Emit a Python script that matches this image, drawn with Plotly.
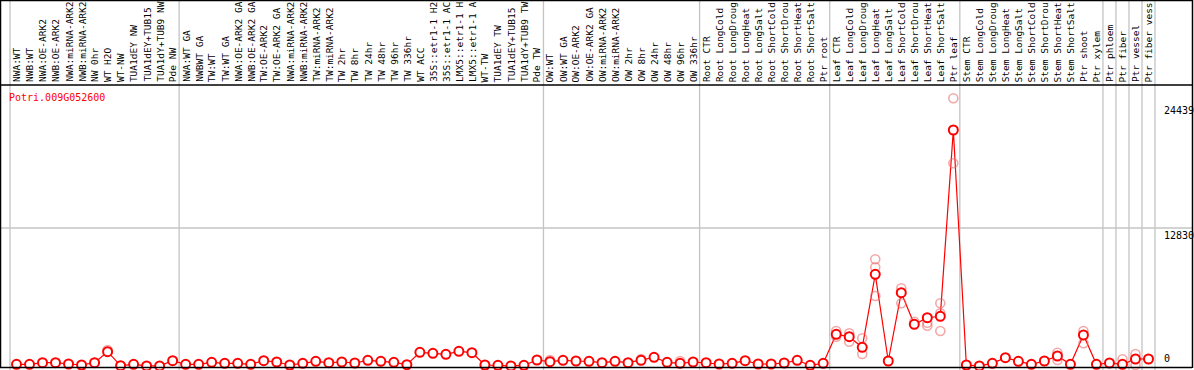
import plotly.graph_objects as go

title_text = "Potri.009G052600"

categories = [
    "NWA:WT", "NWB:WT", "NWA:OE-ARK2", "NWB:OE-ARK2", "NWA:miRNA-ARK2", "NWB:miRNA-ARK2",
    "NW 0hr", "WT H2O", "WT-NW", "TUA1dEY NW", "TUA1dEY+TUB15 NW", "TUA1dY+TUB9 NW", "Pde NW",
    "NWA:WT GA", "NWBWT GA", "TW:WT", "TW:WT GA", "NWA:OE-ARK2 GA", "NWB:OE-ARK2 GA",
    "TW:OE-ARK2", "TW:OE-ARK2 GA", "NWA:miRNA-ARK2", "NWB:miRNA-ARK2", "TW:miRNA-ARK2",
    "TW:miRNA-ARK2", "TW 2hr", "TW 8hr", "TW 24hr", "TW 48hr", "TW 96hr", "TW 336hr", "WT ACC",
    "35S::etr1-1 H2O", "35S::etr1-1 ACC", "LMX5::etr1-1 H2O", "LMX5::etr1-1 ACC", "WT-TW",
    "TUA1dEY TW", "TUA1dEY+TUB15 TW", "TUA1dY+TUB9 TW", "Pde TW",
    "OW:WT", "OW:WT GA", "OW:OE-ARK2", "OW:OE-ARK2 GA", "OW:miRNA-ARK2", "OW:miRNA-ARK2",
    "OW 2hr", "OW 8hr", "OW 24hr", "OW 48hr", "OW 96hr", "OW 336hr",
    "Root CTR", "Root LongCold", "Root LongDrought", "Root LongHeat", "Root LongSalt",
    "Root ShortCold", "Root ShortDrought", "Root ShortHeat", "Root ShortSalt", "Ptr root",
    "Leaf CTR", "Leaf LongCold", "Leaf LongDrought", "Leaf LongHeat", "Leaf LongSalt",
    "Leaf ShortCold", "Leaf ShortDrought", "Leaf ShortHeat", "Leaf ShortSalt", "Ptr leaf",
    "Stem CTR", "Stem LongCold", "Stem LongDrought", "Stem LongHeat", "Stem LongSalt",
    "Stem ShortCold", "Stem ShortDrought", "Stem ShortHeat", "Stem ShortSalt", "Ptr shoot",
    "Ptr xylem", "Ptr phloem", "Ptr fiber", "Ptr vessel", "Ptr fiber vessel",
]

means = [
    158, 158, 307, 307, 186, 93, 307, 1329, 28, 158, 10, 10, 493,
    158, 158, 344, 251, 251, 158, 493, 372, 93, 251, 437, 307, 372, 279, 530, 437, 344,
    121, 1274, 1181, 1088, 1367, 1237, 93, 65, 10, 65, 558,
    400, 530, 465, 437, 307, 437, 307, 530, 809, 344, 251, 372,
    307, 186, 251, 493, 186, 186, 279, 530, 65, 251,
    2947, 2724, 1739, 8525, 465, 6815, 3877, 4490, 4621, 21941,
    93, 10, 251, 772, 437, 158, 465, 930, 158, 2882, 158,
    279, 158, 651, 651,
]

# individual replicate points (category index, value)
rep_idx = [7, 63, 63, 64, 64, 65, 65, 66, 66, 66, 68, 68, 69, 70, 70,
           71, 71, 71, 72, 72, 80, 80, 82, 82, 85, 86, 86, 41, 51, 48]
rep_val = [1487, 3254, 2724, 3040, 2259, 2575, 1116, 9920, 9176, 6508, 7224, 5829, 4119, 4026, 3747,
           5829, 4900, 3254, 24888, 18845, 1237, 558, 3254, 2110, 623, 1116, 93, 558, 465, 651]

group_starts = [0, 13, 41, 53, 63, 73, 84, 85, 86, 87, 88]
tick_vals = [0, 12830, 24439]
tick_text = ["0", "12830", "24439"]
label_chars = 14

W, H = 1194, 370
step = 1145 / 88
x0px = 10.0
xr = [-0.5 - x0px / step, -0.5 + (W - x0px) / step]
kpx = 138 / 12830
yr = [-(H - 366) / kpx, 366 / kpx]

def px_x(p):
    return p / W

def px_y(p):
    return 1 - p / H

RED = "#ff0000"
PALE = "rgba(235,110,110,0.6)"
GRID = "#c4c4c4"
FONT = "DejaVu Sans Mono"

xs = list(range(len(categories)))

fig = go.Figure()
fig.add_trace(go.Scatter(x=xs, y=means, mode="lines",
                         line=dict(color=RED, width=1.2), hoverinfo="skip"))
fig.add_trace(go.Scatter(x=rep_idx, y=rep_val, mode="markers",
                         marker=dict(symbol="circle-open", size=9, color=PALE,
                                     line=dict(color=PALE, width=1.6)),
                         hoverinfo="skip"))
fig.add_trace(go.Scatter(x=xs, y=means, mode="markers",
                         marker=dict(symbol="circle", size=9, color="white",
                                     line=dict(color=RED, width=2)),
                         text=categories, hovertemplate="%{text}: %{y}<extra></extra>"))

shapes = []
for g in group_starts:
    shapes.append(dict(type="line", xref="x", yref="paper", x0=g - 0.5, x1=g - 0.5,
                       y0=0, y1=1, line=dict(color=GRID, width=1.3), layer="below"))
shapes.append(dict(type="line", xref="paper", yref="y", x0=0, x1=px_x(1192),
                   y0=tick_vals[1], y1=tick_vals[1], line=dict(color=GRID, width=1.3), layer="below"))
# frame lines
for (a, b, c, d) in [(0.5, 0, 0.5, 368), (0, 0.5, 1192, 0.5), (1192.5, 0, 1192.5, 368),
                     (0, 367.5, 1192, 367.5), (0, 85, 1192, 85)]:
    shapes.append(dict(type="line", xref="paper", yref="paper", x0=px_x(a), x1=px_x(c),
                       y0=px_y(b), y1=px_y(d), line=dict(color="black", width=1.5)))

annotations = []
for i, c in enumerate(categories):
    annotations.append(dict(x=i, y=px_y(84), xref="x", yref="paper", text=c[:label_chars],
                            textangle=-90, showarrow=False, xanchor="center", yanchor="bottom",
                            font=dict(family=FONT, size=9.5, color="black")))
annotations.append(dict(x=px_x(7), y=px_y(97), xref="paper", yref="paper", text=title_text,
                        showarrow=False, xanchor="left", yanchor="middle",
                        font=dict(family=FONT, size=10, color=RED)))
for v, t in zip(tick_vals, tick_text):
    annotations.append(dict(x=px_x(1162), y=v, xref="paper", yref="y", text=t,
                            showarrow=False, xanchor="left",
                            yanchor="bottom" if v == 0 else "top",
                            font=dict(family=FONT, size=10, color="black")))

fig.update_layout(
    width=W, height=H, margin=dict(l=0, r=0, t=0, b=0),
    paper_bgcolor="white", plot_bgcolor="white", showlegend=False,
    xaxis=dict(range=xr, visible=False, fixedrange=True),
    yaxis=dict(range=yr, visible=False, fixedrange=True),
    shapes=shapes, annotations=annotations,
)
fig.write_html("out.html", config={"displayModeBar": False},
               post_script="document.body.style.margin='0';document.body.style.overflow='hidden';")
